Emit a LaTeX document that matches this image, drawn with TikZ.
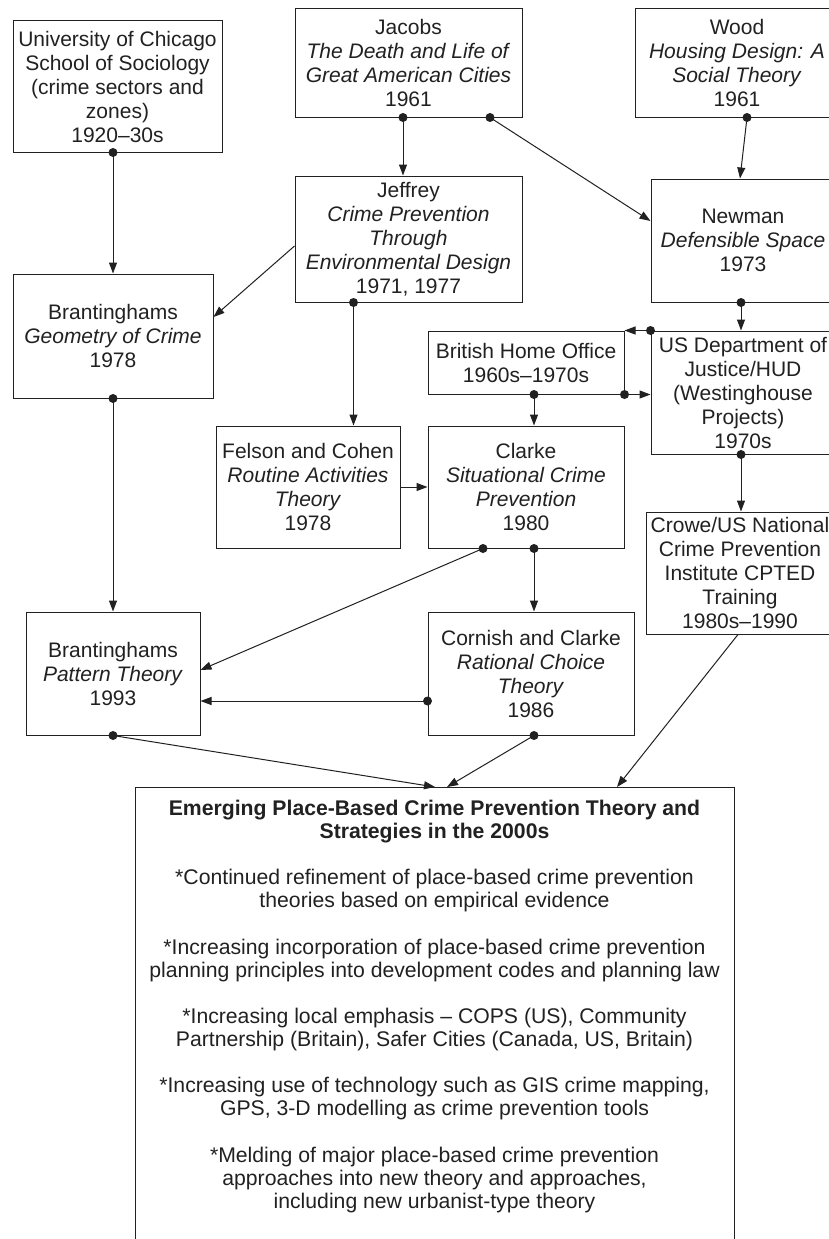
\documentclass[tikz,border=0pt]{standalone}
\usepackage{fontspec}
\setmainfont{Liberation Sans}
\usetikzlibrary{arrows.meta,calc}
\definecolor{ink}{gray}{0.13}
\tikzset{
  box/.style={draw=ink, line width=1pt, rectangle, inner sep=2pt, align=center, text=ink,
    font=\fontsize{21}{24}\selectfont},
  conn/.style={draw=ink, line width=1pt, -{Triangle[length=11pt,width=8pt]}},
  dotc/.style={fill=ink},
}
\newcommand{\bdot}[1]{\fill[dotc] #1 circle (4.5pt);}
\begin{document}
\begin{tikzpicture}[x=1pt,y=-1pt]
\useasboundingbox (0,0) rectangle (829,1239);
\clip (0,0) rectangle (829,1239);
\fill[white] (0,0) rectangle (829,1239);
% nodes
\node[box, minimum width=209pt, minimum height=131pt] (chicago) at (117.5,86.5)
  {University of Chicago\\School of Sociology\\(crime sectors and\\zones)\\1920--30s};
\node[box, minimum width=227pt, minimum height=108pt] (jacobs) at (408.5,63)
  {Jacobs\\\textit{The Death and Life of}\\\textit{Great American Cities}\\1961};
\node[box, minimum width=204pt, minimum height=108pt] (wood) at (737,63)
  {Wood\\\textit{Housing Design: A}\\\textit{Social Theory}\\1961};
\node[box, minimum width=227pt, minimum height=126pt] (jeffrey) at (408.5,239)
  {Jeffrey\\\textit{Crime Prevention}\\\textit{Through}\\\textit{Environmental Design}\\1971, 1977};
\node[box, minimum width=184pt, minimum height=123pt] (newman) at (743,240.5)
  {Newman\\\textit{Defensible Space}\\1973};
\node[box, minimum width=200pt, minimum height=124pt] (geometry) at (113,336)
  {Brantinghams\\\textit{Geometry of Crime}\\1978};
\node[box, minimum width=196pt, minimum height=63pt] (british) at (526,362.5)
  {British Home Office\\1960s--1970s};
\node[box, minimum width=184pt, minimum height=123pt] (usdoj) at (743,392.5)
  {US Department of\\Justice/HUD\\(Westinghouse\\Projects)\\1970s};
\node[box, minimum width=184pt, minimum height=122pt] (felson) at (308,487)
  {Felson and Cohen\\\textit{Routine Activities}\\\textit{Theory}\\1978};
\node[box, minimum width=196pt, minimum height=122pt] (clarke) at (526,487)
  {Clarke\\\textit{Situational Crime}\\\textit{Prevention}\\1980};
\node[box, minimum width=188pt, minimum height=122pt] (crowe) at (740,573)
  {Crowe/US National\\Crime Prevention\\Institute CPTED\\Training\\1980s--1990};
\node[box, minimum width=174pt, minimum height=123pt] (pattern) at (113,673.5)
  {Brantinghams\\\textit{Pattern Theory}\\1993};
\node[box, minimum width=206pt, minimum height=123pt] (cornish) at (531,673.5)
  {Cornish and Clarke\\\textit{Rational Choice}\\\textit{Theory}\\1986};
\node[box, anchor=north west, minimum width=599pt, minimum height=500pt] (emerge) at (135,787) {};
\node[anchor=north, inner sep=0pt, align=center, text=ink, font=\fontsize{21.2}{23.1}\selectfont] (emergetext) at (434.5,800)
  {\textbf{Emerging Place-Based Crime Prevention Theory and}\\
   \textbf{Strategies in the 2000s}\\[23.1pt]
   *Continued refinement of place-based crime prevention\\
   theories based on empirical evidence\\[23.1pt]
   *Increasing incorporation of place-based crime prevention\\
   planning principles into development codes and planning law\\[23.1pt]
   *Increasing local emphasis -- COPS (US), Community\\
   Partnership (Britain), Safer Cities (Canada, US, Britain)\\[23.1pt]
   *Increasing use of technology such as GIS crime mapping,\\
   GPS, 3-D modelling as crime prevention tools\\[23.1pt]
   *Melding of major place-based crime prevention\\
   approaches into new theory and approaches,\\
   including new urbanist-type theory};
% connector anchor points
\coordinate (c1) at (113,0 |- chicago.south);
\coordinate (j1) at (403,0 |- jacobs.south);
\coordinate (j2) at (490,0 |- jacobs.south);
\coordinate (w1) at (747,0 |- wood.south);
\coordinate (jf1) at (353.5,0 |- jeffrey.south);
\coordinate (jf2) at (jeffrey.west |- 0,246);
\coordinate (g1) at (113,0 |- geometry.south);
\coordinate (n1) at (741,0 |- newman.south);
\coordinate (u1) at (usdoj.north west);
\coordinate (b1) at (british.south east);
\coordinate (b2) at (534,0 |- british.south);
\coordinate (cl1) at (483,0 |- clarke.south);
\coordinate (cl2) at (534,0 |- clarke.south);
\coordinate (u2) at (741,0 |- usdoj.south);
\coordinate (co1) at (cornish.west |- 0,701);
\coordinate (co2) at (534,0 |- cornish.south);
\coordinate (p1) at (113,0 |- pattern.south);
\coordinate (cr1) at (738,0 |- crowe.south);
% connectors
\draw[conn] (c1) -- (113,0 |- geometry.north);
\draw[conn] (j1) -- (403,0 |- jeffrey.north);
\draw[conn] (j2) -- (newman.west |- 0,221);
\draw[conn] (w1) -- (740,0 |- newman.north);
\draw[conn] (jf2) -- (geometry.east |- 0,317);
\draw[conn] (jf1) -- (353.5,0 |- felson.north);
\draw[conn] (g1) -- (113,0 |- pattern.north);
\draw[conn] (n1) -- (741,0 |- usdoj.north);
\draw[conn] (u1) -- (british.north east);
\draw[conn] (b1) -- (usdoj.west |- b1);
\draw[conn] (b2) -- (534,0 |- clarke.north);
\draw[conn] (felson.east) -- (clarke.west);
\draw[conn] (cl1) -- (pattern.east |- 0,670);
\draw[conn] (cl2) -- (534,0 |- cornish.north);
\draw[conn] (u2) -- (741,0 |- crowe.north);
\draw[conn] (co1) -- (pattern.east |- co1);
\draw[conn] (p1) -- (435,0 |- emerge.north);
\draw[conn] (co2) -- (447,0 |- emerge.north);
\draw[conn] (cr1) -- (617,0 |- emerge.north);
% dots
\bdot{(c1)} \bdot{(j1)} \bdot{(j2)} \bdot{(w1)} \bdot{(jf1)} \bdot{(g1)}
\bdot{(n1)} \bdot{(u1)} \bdot{(b1)} \bdot{(b2)} \bdot{(cl1)} \bdot{(cl2)}
\bdot{(u2)} \bdot{(co1)} \bdot{(co2)} \bdot{(p1)}
\end{tikzpicture}
\end{document}
